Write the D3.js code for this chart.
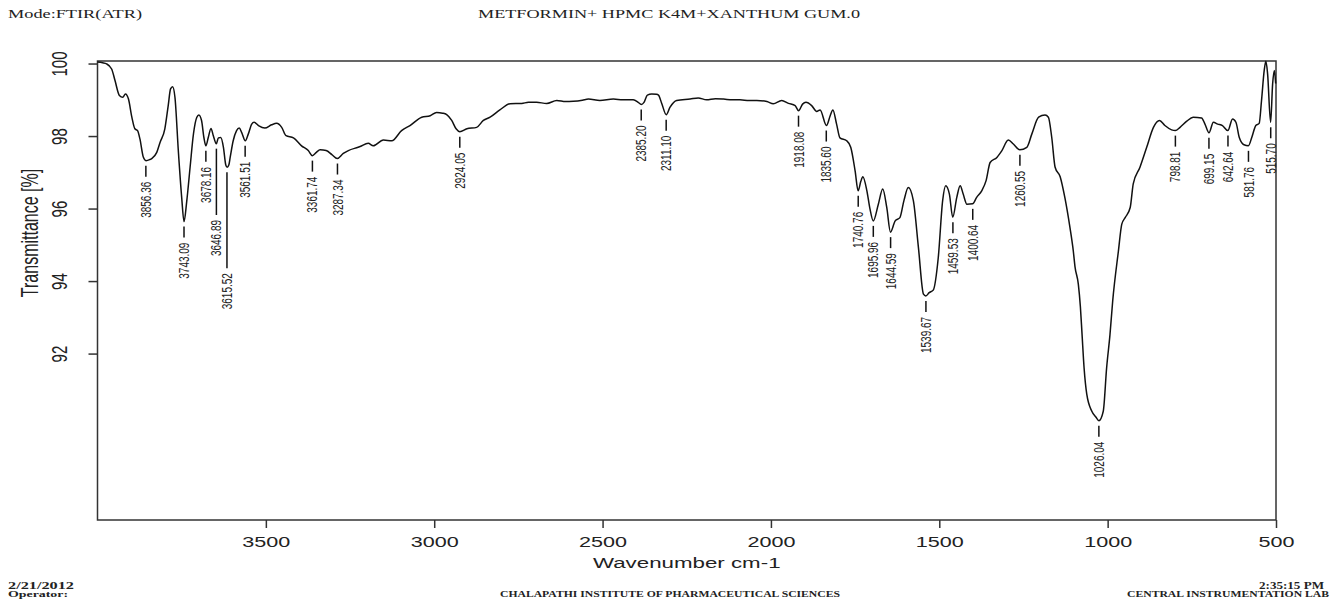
<!DOCTYPE html>
<html>
<head>
<meta charset="utf-8">
<script src="https://cdn.jsdelivr.net/npm/d3@7"></script>
<style>
  body { margin: 0; background: #fff; }
  text { fill: #222; }
</style>
</head>
<body>
<div id="chart"></div>
<script>
// FTIR spectrum
var wavenumber = [
  4000, 3985, 3973, 3958, 3948, 3935, 3925, 3917, 3908, 3898, 3889, 3881, 3874, 3864, 3856, 3845, 3839, 3824, 3814, 3800,
  3790, 3783, 3777, 3770, 3760, 3750, 3743, 3735, 3725, 3715, 3705, 3699, 3691, 3684, 3678, 3671, 3663, 3656, 3647, 3641,
  3634, 3626, 3619, 3615, 3610, 3606, 3597, 3587, 3579, 3572, 3561, 3552, 3542, 3535, 3522, 3503, 3483, 3468, 3453, 3440,
  3418, 3394, 3374, 3362, 3350, 3339, 3321, 3304, 3288, 3270, 3255, 3226, 3220, 3196, 3181, 3151, 3126, 3097, 3072, 3037,
  3012, 2993, 2975, 2963, 2948, 2935, 2924, 2903, 2874, 2854, 2834, 2805, 2775, 2740, 2720, 2696, 2666, 2636, 2610, 2587,
  2560, 2542, 2508, 2468, 2440, 2409, 2394, 2385, 2377, 2367, 2354, 2340, 2334, 2324, 2311, 2300, 2280, 2240, 2216, 2191,
  2165, 2141, 2115, 2092, 2065, 2042, 2012, 1993, 1968, 1948, 1928, 1918, 1906, 1896, 1879, 1864, 1854, 1835, 1824, 1816,
  1805, 1795, 1775, 1763, 1750, 1741, 1733, 1727, 1715, 1706, 1696, 1681, 1668, 1656, 1645, 1631, 1617, 1605, 1592, 1577,
  1562, 1547, 1540, 1530, 1518, 1503, 1490, 1481, 1470, 1460, 1448, 1438, 1429, 1418, 1401, 1389, 1374, 1361, 1349, 1329,
  1314, 1295, 1280, 1261, 1240, 1225, 1205, 1186, 1176, 1166, 1156, 1141, 1127, 1112, 1102, 1097, 1087, 1081, 1076, 1070,
  1062, 1047, 1035, 1026, 1013, 1003, 993, 985, 968, 958, 948, 933, 924, 904, 884, 864, 846, 830, 810, 799,
  785, 765, 746, 721, 711, 699, 686, 673, 659, 643, 629, 619, 609, 595, 582, 572, 560, 550, 543, 535,
  530, 525, 516, 510, 505, 501
];
var transmittance = [
  100.04, 100.02, 99.99, 99.85, 99.53, 99.12, 99.07, 99.16, 99.02, 98.52, 98.2, 98.15, 97.92, 97.42, 97.32, 97.35, 97.38, 97.55, 97.83, 98.2,
  98.84, 99.3, 99.36, 99.07, 97.6, 96.31, 95.64, 96.2, 97.14, 98.06, 98.52, 98.58, 98.43, 97.96, 97.73, 97.96, 98.21, 98.01, 97.79, 97.95,
  97.96, 97.69, 97.2, 97.14, 97.2, 97.41, 97.87, 98.15, 98.22, 98.1, 97.87, 98.06, 98.33, 98.38, 98.29, 98.22, 98.31, 98.35, 98.24, 98.01,
  97.95, 97.73, 97.6, 97.46, 97.55, 97.62, 97.6, 97.49, 97.38, 97.52, 97.6, 97.69, 97.71, 97.8, 97.73, 97.89, 97.87, 98.15, 98.29, 98.52,
  98.56, 98.65, 98.63, 98.59, 98.43, 98.2, 98.12, 98.2, 98.24, 98.43, 98.52, 98.72, 98.89, 98.9, 98.93, 98.93, 98.9, 98.98, 98.95, 98.96,
  98.99, 99.02, 98.98, 99.02, 99.0, 99.0, 98.93, 98.87, 98.93, 99.13, 99.16, 99.15, 99.13, 98.89, 98.59, 98.79, 98.98, 99.02, 99.05, 99.0,
  99.03, 99.02, 99.0, 99.0, 98.98, 98.98, 98.95, 98.89, 98.98, 98.9, 98.84, 98.7, 98.88, 98.93, 98.84, 98.68, 98.72, 98.29, 98.56, 98.72,
  98.33, 97.95, 97.87, 97.69, 97.04, 96.49, 96.75, 96.88, 96.49, 96.0, 95.66, 96.12, 96.54, 96.03, 95.35, 95.66, 95.75, 96.22, 96.58, 96.22,
  94.93, 93.64, 93.59, 93.68, 93.75, 94.65, 96.22, 96.63, 96.4, 95.76, 96.31, 96.63, 96.4, 96.12, 96.13, 96.31, 96.49, 96.77, 97.27, 97.41,
  97.6, 97.89, 97.78, 97.62, 97.69, 98.06, 98.52, 98.58, 98.52, 97.96, 97.14, 96.88, 96.3, 95.48, 94.83, 94.4, 93.91, 93.3, 92.53, 91.61,
  90.88, 90.41, 90.25, 90.15, 90.41, 91.61, 92.53, 93.45, 94.83, 95.57, 95.75, 96.03, 96.68, 97.14, 97.69, 98.24, 98.43, 98.29, 98.17, 98.15,
  98.24, 98.41, 98.52, 98.5, 98.33, 98.09, 98.38, 98.33, 98.29, 98.15, 98.47, 98.38, 97.96, 97.76, 97.73, 97.96, 98.29, 98.35, 98.98, 99.81,
  100.06, 99.72, 98.38, 99.44, 99.81, 99.45
];

// picked peaks and their transmittance
var peakWavenumber = [3856.36, 3743.09, 3678.16, 3646.89, 3615.52, 3561.51, 3361.74, 3287.34, 2924.05, 2385.20, 2311.10,
  1918.08, 1835.60, 1740.76, 1695.96, 1644.59, 1539.67, 1459.53, 1400.64, 1260.55, 1026.04, 798.81, 699.15, 642.64, 581.76, 515.70];
var peakTransmittance = [97.32, 95.64, 97.73, 97.79, 97.14, 97.87, 97.46, 97.38, 98.12, 98.87, 98.59,
  98.70, 98.29, 96.49, 95.66, 95.35, 93.59, 95.76, 96.13, 97.62, 90.15, 98.15, 98.09, 98.15, 97.73, 98.38];

var xTicks = [3500, 3000, 2500, 2000, 1500, 1000, 500];
var yTicks = [92, 94, 96, 98, 100];

(function(){
    var W = 1331, H = 599;
    var plotL = 97.5, plotR = 1276, plotT = 61, plotB = 520;
    var stretch = 1.44; // the print is wider than it is tall
    var sans = '"Liberation Sans", Arial, sans-serif';
    var serif = '"Liberation Serif", "Times New Roman", serif';

    var svg = d3.select('#chart').append('svg')
        .attr('width', W)
        .attr('height', H);

    svg.append('rect').attr('width', W).attr('height', H).attr('fill', '#fff');

    var x = d3.scaleLinear().domain([4000, 500]).range([plotL, plotR]);
    var y = d3.scaleLinear().domain([87.41, 100.07]).range([plotB, plotT]);

    // axes
    var xAxis = svg.append('g')
        .attr('transform', 'translate(0,' + plotB + ')')
        .call(d3.axisBottom(x).tickValues(xTicks).tickSize(8).tickPadding(8).tickFormat(d3.format('d')));
    xAxis.select('.domain').remove();
    xAxis.selectAll('line').attr('stroke', '#333').attr('stroke-width', 1.5);
    xAxis.selectAll('text')
        .attr('font-family', sans).attr('font-size', 15).attr('fill', '#222')
        .attr('transform', 'scale(' + stretch + ',1)');

    var yAxis = svg.append('g')
        .attr('transform', 'translate(' + plotL + ',0)')
        .call(d3.axisLeft(y).tickValues(yTicks).tickSize(9).tickFormat(d3.format('d')));
    yAxis.select('.domain').remove();
    yAxis.selectAll('line').attr('stroke', '#333').attr('stroke-width', 1.5);
    yAxis.selectAll('text')
        .attr('x', null).attr('dy', null)
        .attr('text-anchor', 'middle')
        .attr('font-family', sans).attr('font-size', 15).attr('fill', '#222')
        .attr('transform', 'translate(-31,0) scale(' + stretch + ',1) rotate(-90)');

    svg.append('rect')
        .attr('x', plotL).attr('y', plotT)
        .attr('width', plotR - plotL).attr('height', plotB - plotT)
        .attr('fill', 'none').attr('stroke', '#333').attr('stroke-width', 1.5);

    // axis titles
    svg.append('text')
        .attr('transform', 'translate(' + ((plotL + plotR) / 2) + ',568) scale(' + stretch + ',1)')
        .attr('text-anchor', 'middle')
        .attr('font-family', sans).attr('font-size', 15.5)
        .text('Wavenumber cm-1');

    svg.append('text')
        .attr('transform', 'translate(38,233) scale(' + stretch + ',1) rotate(-90)')
        .attr('text-anchor', 'middle')
        .attr('font-family', sans).attr('font-size', 16)
        .text('Transmittance [%]');

    // spectrum
    var points = wavenumber.map(function(w, i){ return [w, transmittance[i]]; });
    var line = d3.line()
        .x(function(d){ return x(d[0]); })
        .y(function(d){ return y(d[1]); })
        .curve(d3.curveMonotoneX);

    svg.append('path')
        .datum(points)
        .attr('d', line)
        .attr('fill', 'none')
        .attr('stroke', '#111')
        .attr('stroke-width', 1.5)
        .attr('stroke-linejoin', 'round');

    // peak labels, pushed down when they crowd the neighbour on the left
    var peaks = peakWavenumber.map(function(w, i){ return { w: w, t: peakTransmittance[i] }; });
    var labels = svg.append('g');
    var prev = null;
    peaks.forEach(function(p){
        var px = x(p.w);
        var y0 = y(p.t) + 5;
        var y1 = y0 + 11;
        var label = labels.append('text')
            .attr('text-anchor', 'end')
            .attr('dy', '0.35em')
            .attr('font-family', sans).attr('font-size', 10)
            .text(d3.format('.2f')(p.w));
        var len = label.node().getComputedTextLength();
        if (prev && px - prev.x < 15 && y1 + 5 < prev.end + 12) {
            y1 = prev.end + 12;
        }
        var ty = y1 + 5;
        label.attr('transform', 'translate(' + px + ',' + ty + ') scale(' + stretch + ',1) rotate(-90)');
        labels.append('line')
            .attr('x1', px).attr('x2', px)
            .attr('y1', y0).attr('y2', y1)
            .attr('stroke', '#111').attr('stroke-width', 1.5);
        prev = { x: px, end: ty + len };
    });

    // report header and footer
    function note(txt, tx, ty, anchor, size, weight, width) {
        svg.append('text')
            .attr('x', tx).attr('y', ty)
            .attr('text-anchor', anchor)
            .attr('font-family', serif)
            .attr('font-size', size)
            .attr('font-weight', weight)
            .attr('textLength', width)
            .attr('lengthAdjust', 'spacingAndGlyphs')
            .text(txt);
    }
    note('Mode:FTIR(ATR)', 8, 18, 'start', 12.5, 'normal', 134);
    note('METFORMIN+ HPMC K4M+XANTHUM GUM.0', 669, 18, 'middle', 12.5, 'normal', 382);
    note('2/21/2012', 8, 588.5, 'start', 10, 'bold', 66);
    note('Operator:', 8, 596.5, 'start', 9, 'bold', 60);
    note('CHALAPATHI INSTITUTE OF PHARMACEUTICAL SCIENCES', 670, 596.5, 'middle', 9, 'bold', 340);
    note('2:35:15 PM', 1324, 588.5, 'end', 10, 'bold', 65);
    note('CENTRAL INSTRUMENTATION LAB', 1329, 596.5, 'end', 9, 'bold', 202);
})();
</script>
</body>
</html>
